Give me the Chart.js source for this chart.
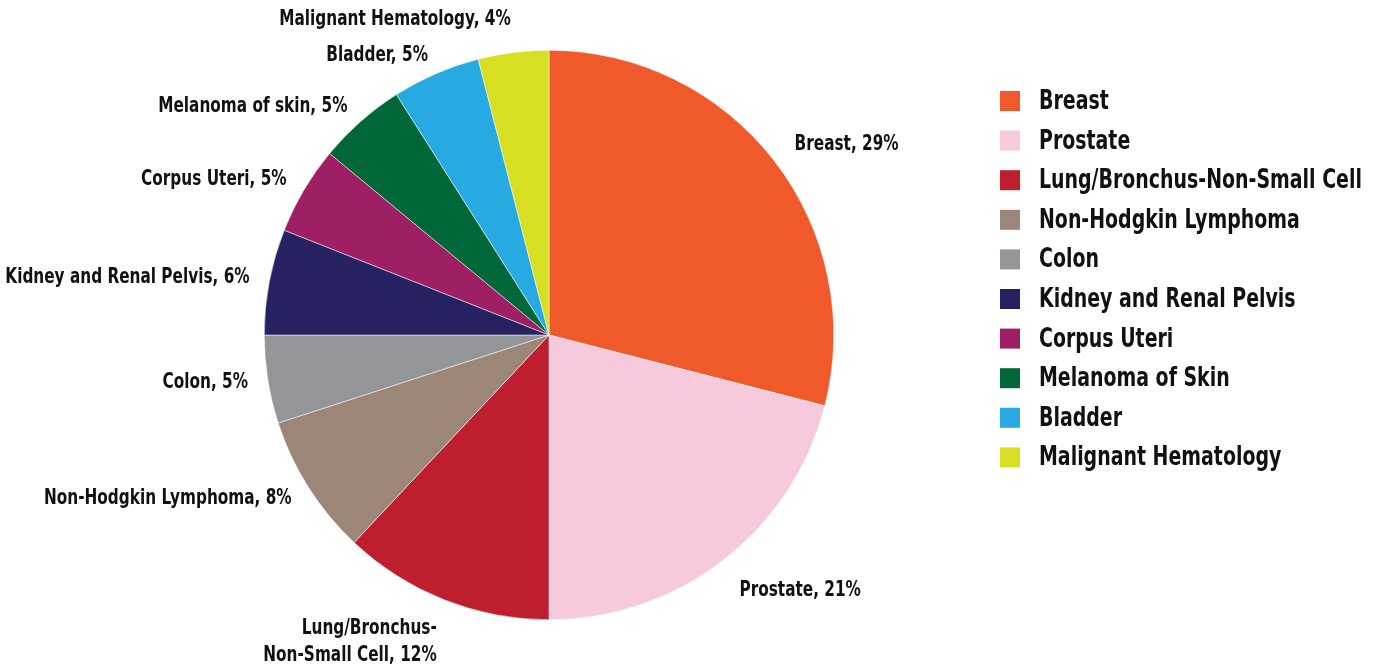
<!DOCTYPE html>
<html>
<head>
<meta charset="utf-8">
<script src="https://cdn.jsdelivr.net/npm/chart.js@4"></script>
<style>
html,body{margin:0;padding:0;background:#fff;}
#wrap{width:1377px;height:668px;position:relative;}
</style>
</head>
<body>
<div id="wrap"><canvas id="c" width="1377" height="668"></canvas></div>
<script>
const categories = ["Breast","Prostate","Lung/Bronchus-Non-Small Cell","Non-Hodgkin Lymphoma","Colon","Kidney and Renal Pelvis","Corpus Uteri","Melanoma of Skin","Bladder","Malignant Hematology"];
const sliceLabels = [["Breast, 29%"],["Prostate, 21%"],["Lung/Bronchus-","Non-Small Cell, 12%"],["Non-Hodgkin Lymphoma, 8%"],["Colon, 5%"],["Kidney and Renal Pelvis, 6%"],["Corpus Uteri, 5%"],["Melanoma of skin, 5%"],["Bladder, 5%"],["Malignant Hematology, 4%"]];
const shares = [29,21,12,8,5,6,5,5,5,4];
const colors = ["#F05A2B","#F7C9DD","#BE1E2D","#9C8677","#939598","#262262","#9E1F63","#006838","#27AAE1","#D7DF23"];

const FONT = '"DejaVu Sans Condensed","Liberation Sans Narrow",sans-serif';

function drawText(ctx, txt, x, y, align, baseline, size, sx){
  ctx.save();
  ctx.font = 'bold ' + size + 'px ' + FONT;
  ctx.textBaseline = baseline;
  ctx.textAlign = 'left';
  const w = ctx.measureText(txt).width * sx;
  let left = x;
  if (align === 'right') left = x - w;
  else if (align === 'center') left = x - w/2;
  ctx.translate(left, y);
  ctx.scale(sx, 1);
  ctx.fillStyle = '#111';
  ctx.fillText(txt, 0, 0);
  ctx.restore();
}

const labelPlugin = {
  id: 'outLabels',
  afterDatasetsDraw(chart){
    const ctx = chart.ctx;
    const meta = chart.getDatasetMeta(0);
    meta.data.forEach((arc, i) => {
      const mid = (arc.startAngle + arc.endAngle) / 2;
      const c = Math.cos(mid), s = Math.sin(mid);
      const r = arc.outerRadius + (c >= 0 ? 26 : 20);
      const x = arc.x + c * r;
      let y = arc.y + s * r;
      const align = c >= 0 ? 'left' : 'right';
      const lines = sliceLabels[i];
      const lh = 27;
      const total = lines.length * lh;
      let top;
      if (s > 0.75) top = y - 3;
      else if (s < -0.95) top = y - total;
      else top = y - total / 2;
      lines.forEach((ln, k) => {
        drawText(ctx, ln, x, top + k * lh + lh / 2, align, 'middle', 21, 0.81);
      });
    });
  }
};

const legendPlugin = {
  id: 'sideLegend',
  afterDraw(chart){
    const ctx = chart.ctx;
    const x0 = 1000, y0 = 101, step = 39.6;
    chart.data.labels.forEach((lab, i) => {
      const y = y0 + i * step;
      ctx.fillStyle = chart.data.datasets[0].backgroundColor[i];
      ctx.fillRect(x0, y - 10, 20, 20);
      drawText(ctx, lab, x0 + 39, y + 1, 'left', 'middle', 27, 0.78);
    });
  }
};

new Chart(document.getElementById('c'), {
  type: 'pie',
  data: {
    labels: categories,
    datasets: [{
      data: shares,
      backgroundColor: colors,
      borderColor: '#ffffff',
      borderWidth: 0.5
    }]
  },
  options: {
    responsive: false,
    animation: false,
    layout: { padding: { left: 264, right: 543, top: 50, bottom: 48 } },
    plugins: {
      legend: { display: false },
      tooltip: { enabled: false }
    }
  },
  plugins: [labelPlugin, legendPlugin]
});
</script>
</body>
</html>
